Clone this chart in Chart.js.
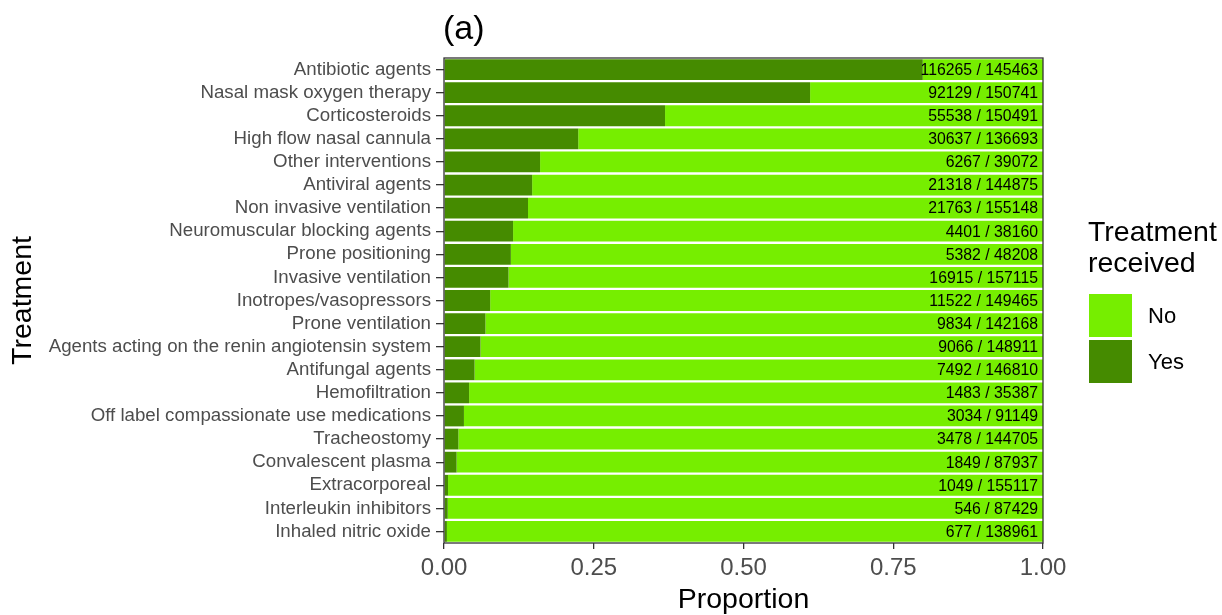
<!DOCTYPE html>
<html>
<head>
<meta charset="utf-8">
<script src="https://cdn.jsdelivr.net/npm/chart.js@4"></script>
<style>
  body { margin: 0; background: #fff; font-family: "Liberation Sans", Arial, sans-serif; }
  #wrap { position: relative; width: 1222px; height: 615px; }
  #legend { position: absolute; left: 1089px; top: 216px; color: #000; }
  #legend .ttl { font-size: 28.5px; line-height: 31px; margin-left: -1px; }
  #legend .row { display: flex; align-items: center; height: 43px; }
  #legend .sw { width: 43px; height: 43px; margin-right: 16px; }
  #legend .lab { font-size: 22px; }
</style>
</head>
<body>
<div id="wrap">
  <canvas id="myChart" width="1222" height="615"></canvas>
  <div id="legend">
    <div class="ttl">Treatment<br>received</div>
    <div style="height:16px"></div>
    <div class="row"><div class="sw" style="background:#76EE00"></div><span class="lab">No</span></div>
    <div class="row" style="margin-top:3px"><div class="sw" style="background:#458B00"></div><span class="lab">Yes</span></div>
  </div>
</div>
<script>
const treatments = [
  'Antibiotic agents', 'Nasal mask oxygen therapy', 'Corticosteroids', 'High flow nasal cannula',
  'Other interventions', 'Antiviral agents', 'Non invasive ventilation', 'Neuromuscular blocking agents',
  'Prone positioning', 'Invasive ventilation', 'Inotropes/vasopressors', 'Prone ventilation',
  'Agents acting on the renin angiotensin system', 'Antifungal agents', 'Hemofiltration',
  'Off label compassionate use medications', 'Tracheostomy', 'Convalescent plasma',
  'Extracorporeal', 'Interleukin inhibitors', 'Inhaled nitric oxide'
];
const received = [116265, 92129, 55538, 30637, 6267, 21318, 21763, 4401, 5382, 16915, 11522,
  9834, 9066, 7492, 1483, 3034, 3478, 1849, 1049, 546, 677];
const totals = [145463, 150741, 150491, 136693, 39072, 144875, 155148, 38160, 48208, 157115, 149465,
  142168, 148911, 146810, 35387, 91149, 144705, 87937, 155117, 87429, 138961];
const xTicks = [0, 0.25, 0.5, 0.75, 1];

const yesShare = received.map((v, i) => v / totals[i]);
const noShare = received.map((v, i) => 1 - v / totals[i]);

const font = '"Liberation Sans", Arial, sans-serif';

// count labels, panel border and the "(a)" tag
const panelAndLabels = {
  id: 'panelAndLabels',
  afterDatasetsDraw(chart) {
    const { ctx, chartArea: a, scales } = chart;
    ctx.save();
    ctx.font = '15.8px ' + font;
    ctx.fillStyle = '#000';
    ctx.textAlign = 'right';
    ctx.textBaseline = 'middle';
    treatments.forEach((t, i) => {
      ctx.fillText(received[i] + ' / ' + totals[i], scales.x.getPixelForValue(1) - 5, scales.y.getPixelForValue(i) + 1);
    });
    ctx.strokeStyle = '#333';
    ctx.lineWidth = 1.3;
    ctx.strokeRect(a.left, a.top, a.right - a.left, a.bottom - a.top);
    ctx.font = '34px ' + font;
    ctx.textAlign = 'left';
    ctx.textBaseline = 'alphabetic';
    ctx.fillText('(a)', a.left - 1, 39);
    ctx.restore();
  }
};

const data = {
  labels: treatments,
  datasets: [
    { label: 'Yes', data: yesShare, backgroundColor: '#458B00', barPercentage: 0.9, categoryPercentage: 1 },
    { label: 'No', data: noShare, backgroundColor: '#76EE00', barPercentage: 0.9, categoryPercentage: 1 }
  ]
};

const config = {
  type: 'bar',
  data: data,
  options: {
    indexAxis: 'y',
    responsive: false,
    animation: false,
    layout: { padding: { top: 58, right: 179, left: 0, bottom: 0 } },
    plugins: { legend: { display: false }, tooltip: { enabled: false } },
    scales: {
      x: {
        stacked: true, min: 0, max: 1,
        afterBuildTicks: s => { s.ticks = xTicks.map(v => ({ value: v })); },
        afterFit: s => { s.height = 72; },
        grid: { drawOnChartArea: false, tickLength: 6, color: '#333', lineWidth: 1.3 },
        border: { display: false },
        ticks: { color: '#4D4D4D', font: { size: 24, family: font }, padding: 5,
                 callback: v => Number(v).toFixed(2) },
        title: { display: true, text: 'Proportion', color: '#000', font: { size: 28.5, family: font }, padding: { top: 0, bottom: -2 } }
      },
      y: {
        stacked: true,
        afterFit: s => { s.width = 444; },
        grid: { drawOnChartArea: false, tickLength: 8, color: '#333', lineWidth: 1.3, offset: false },
        border: { display: false },
        ticks: { color: '#4D4D4D', font: { size: 18.7, family: font }, padding: 5, autoSkip: false },
        title: { display: true, text: 'Treatment', color: '#000', font: { size: 28.5, family: font }, padding: { bottom: 0, top: 6 } }
      }
    }
  },
  plugins: [panelAndLabels]
};

const myChart = new Chart(document.getElementById('myChart'), config);
</script>
</body>
</html>
